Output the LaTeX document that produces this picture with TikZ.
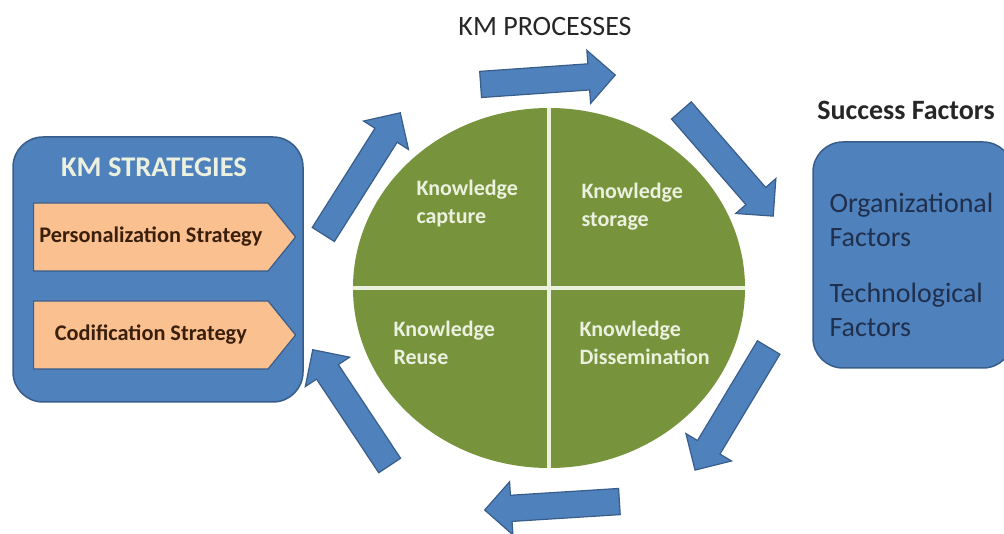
\documentclass[tikz,border=0pt]{standalone}
\usepackage{fontspec}
\setmainfont{Carlito}
\usepackage{tikz}
\usetikzlibrary{
    shapes.arrows,
    shapes.symbols,
    shapes.geometric
}

\definecolor{kmblue}{HTML}{4F81BD}
\definecolor{kmedge}{HTML}{385D8A}
\definecolor{kmgreen}{HTML}{77933C}
\definecolor{kmpale}{HTML}{EBF1DE}
\definecolor{kmorange}{HTML}{FAC090}
\definecolor{kmbrown}{HTML}{3A200C}
\definecolor{kmnavy}{HTML}{1F2F4C}
\definecolor{kmgrey}{HTML}{262626}

\begin{document}
\begin{tikzpicture}[x=1pt, y=-1pt,
    flow/.style={single arrow, draw=kmedge, fill=kmblue, line width=1.2pt,
        inner sep=12.5pt, single arrow head extend=13.5pt, minimum width=52pt, anchor=tail},
    panel/.style={rectangle, rounded corners=30pt, draw=kmedge, fill=kmblue, line width=1.5pt},
    strategy/.style={signal, signal to=east, signal pointer angle=102, draw=kmedge, fill=kmorange,
        line width=1.2pt, minimum width=262pt, minimum height=68pt, anchor=west,
        text=kmbrown, font=\fontsize{22.3}{26}\selectfont\bfseries}]
    \tikzstyle{quarter}=[anchor=west, align=left, text=kmpale, font=\fontsize{22}{28}\selectfont\bfseries]
    \tikzstyle{factor}=[anchor=west, align=left, text=kmnavy, font=\fontsize{28}{34}\selectfont]
    \useasboundingbox (0,0) rectangle (1004,534);

    % process cycle
    \node[ellipse, fill=kmgreen, minimum width=392pt, minimum height=360pt] (cycle) at (549,288) {};
    \draw[kmpale, line width=4pt] (cycle.north) -- (cycle.south);
    \draw[kmpale, line width=4pt] (cycle.west) -- (cycle.east);
    \node[quarter] (capture) at (413,204) {Knowledge\\capture};
    \node[quarter] (storage) at (578,207) {Knowledge\\storage};
    \node[quarter] (reuse) at (390,343) {Knowledge\\Reuse};
    \node[quarter] (spread) at (576,343) {Knowledge\\Dissemination};

    % arrows round the cycle
    \node[flow, rotate=57.7, minimum height=144pt] (up) at (323,235) {};
    \node[flow, rotate=4, minimum height=135pt] (top) at (480,84.5) {};
    \node[flow, rotate=-49, minimum height=140pt] (down) at (681,110) {};
    \node[flow, rotate=-121, minimum height=143pt] (low) at (769,347) {};
    \node[flow, rotate=183.6, minimum height=135pt] (bottom) at (620,501.5) {};
    \node[flow, rotate=123.6, minimum height=139pt] (back) at (390,466) {};

    \node[text=kmgrey, font=\fontsize{28}{32}\selectfont] (proc) at (545,27) {KM PROCESSES};

    % strategies
    \node[panel, minimum width=290pt, minimum height=265pt] (strat) at (158,269.5) {};
    \node[text=kmpale, font=\fontsize{28.5}{32}\selectfont\bfseries] (strattitle) at (154,167) {KM STRATEGIES};
    \node[strategy] (pers) at (33,237) {Personalization Strategy};
    \node[strategy] (codif) at (33,335) {Codification Strategy};

    % success factors
    \node[text=kmgrey, font=\fontsize{28}{32}\selectfont\bfseries] (success) at (906,110) {Success Factors};
    \node[panel, minimum width=200pt, minimum height=226pt] (factors) at (913,255) {};
    \node[factor] (org) at (826,220) {Organizational\\Factors};
    \node[factor] (tech) at (826,310) {Technological\\Factors};
\end{tikzpicture}
\end{document}
